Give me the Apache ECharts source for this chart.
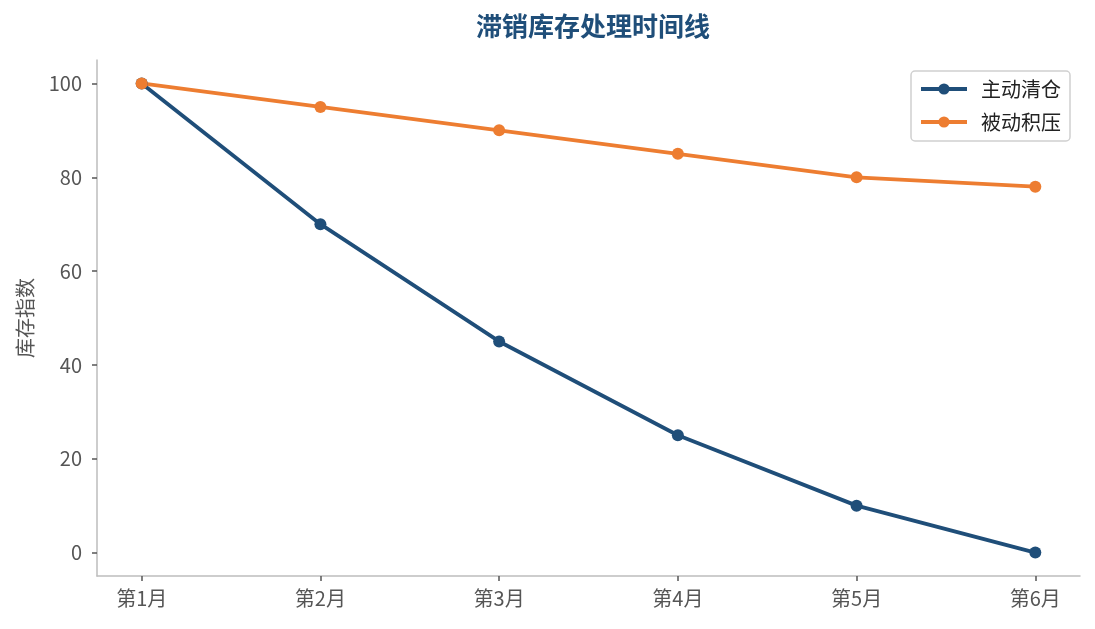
<!DOCTYPE html>
<html>
<head>
<meta charset="utf-8">
<script src="https://cdn.jsdelivr.net/npm/echarts@6/dist/echarts.min.js"></script>
<style>
  html, body { margin: 0; padding: 0; background: #fff; }
  #chart { width: 1095px; height: 629px; }
</style>
</head>
<body>
<div id="chart"></div>
<script>
const months = ['第1月', '第2月', '第3月', '第4月', '第5月', '第6月'];
const activeClear = [100, 70, 45, 25, 10, 0];
const passiveStock = [100, 95, 90, 85, 80, 78];
const yTicks = [0, 20, 40, 60, 80, 100];
const xTicks = [0, 1, 2, 3, 4, 5];

const font = '"Noto Sans CJK SC", "Noto Sans", sans-serif';
const chart = echarts.init(document.getElementById('chart'));

const toPairs = arr => arr.map((v, i) => [i, v]);

chart.setOption({
  backgroundColor: '#fff',
  animation: false,
  title: {
    text: '滞销库存处理时间线',
    left: 588, textAlign: 'center', top: 8,
    textStyle: { fontFamily: font, fontSize: 26, fontWeight: 'bold', color: '#1f4e79' }
  },
  grid: { left: 97, right: 15, top: 60, bottom: 53, containLabel: false },
  legend: {
    orient: 'vertical', right: 25, top: 71,
    padding: [8, 9, 9, 8], itemGap: 13,
    itemWidth: 46, itemHeight: 14,
    lineStyle: { width: 4 },
    borderColor: '#d0d0d0', borderWidth: 1.5, borderRadius: 4,
    textStyle: { fontFamily: font, fontSize: 20, color: '#222', padding: [0, 0, 0, 9] },
    data: ['主动清仓', '被动积压']
  },
  xAxis: {
    type: 'value', min: -0.25, max: 5.25,
    splitLine: { show: false },
    axisLine: { onZero: false, lineStyle: { color: '#bdbdbd', width: 1.5 } },
    axisTick: { show: true, length: 5, customValues: xTicks, lineStyle: { color: '#555', width: 1.5 } },
    axisLabel: {
      customValues: xTicks, margin: 12,
      formatter: v => months[Math.round(v)],
      fontFamily: font, fontSize: 20, color: '#555'
    }
  },
  yAxis: {
    type: 'value', min: -5, max: 105,
    name: '库存指数', nameLocation: 'middle', nameGap: 62, nameRotate: 90,
    nameTextStyle: { fontFamily: font, fontSize: 20, color: '#555' },
    splitLine: { show: false },
    axisLine: { show: true, onZero: false, lineStyle: { color: '#bdbdbd', width: 1.5 } },
    axisTick: { show: true, length: 5, customValues: yTicks, lineStyle: { color: '#555', width: 1.5 } },
    axisLabel: {
      customValues: yTicks, margin: 15,
      fontFamily: font, fontSize: 20, color: '#555'
    }
  },
  series: [
    {
      name: '主动清仓', type: 'line', data: toPairs(activeClear),
      symbol: 'circle', symbolSize: 12,
      lineStyle: { color: '#1f4e79', width: 3.8 },
      itemStyle: { color: '#1f4e79' }
    },
    {
      name: '被动积压', type: 'line', data: toPairs(passiveStock),
      symbol: 'circle', symbolSize: 12,
      lineStyle: { color: '#ed7d31', width: 3.8 },
      itemStyle: { color: '#ed7d31' }
    }
  ]
});
</script>
</body>
</html>
